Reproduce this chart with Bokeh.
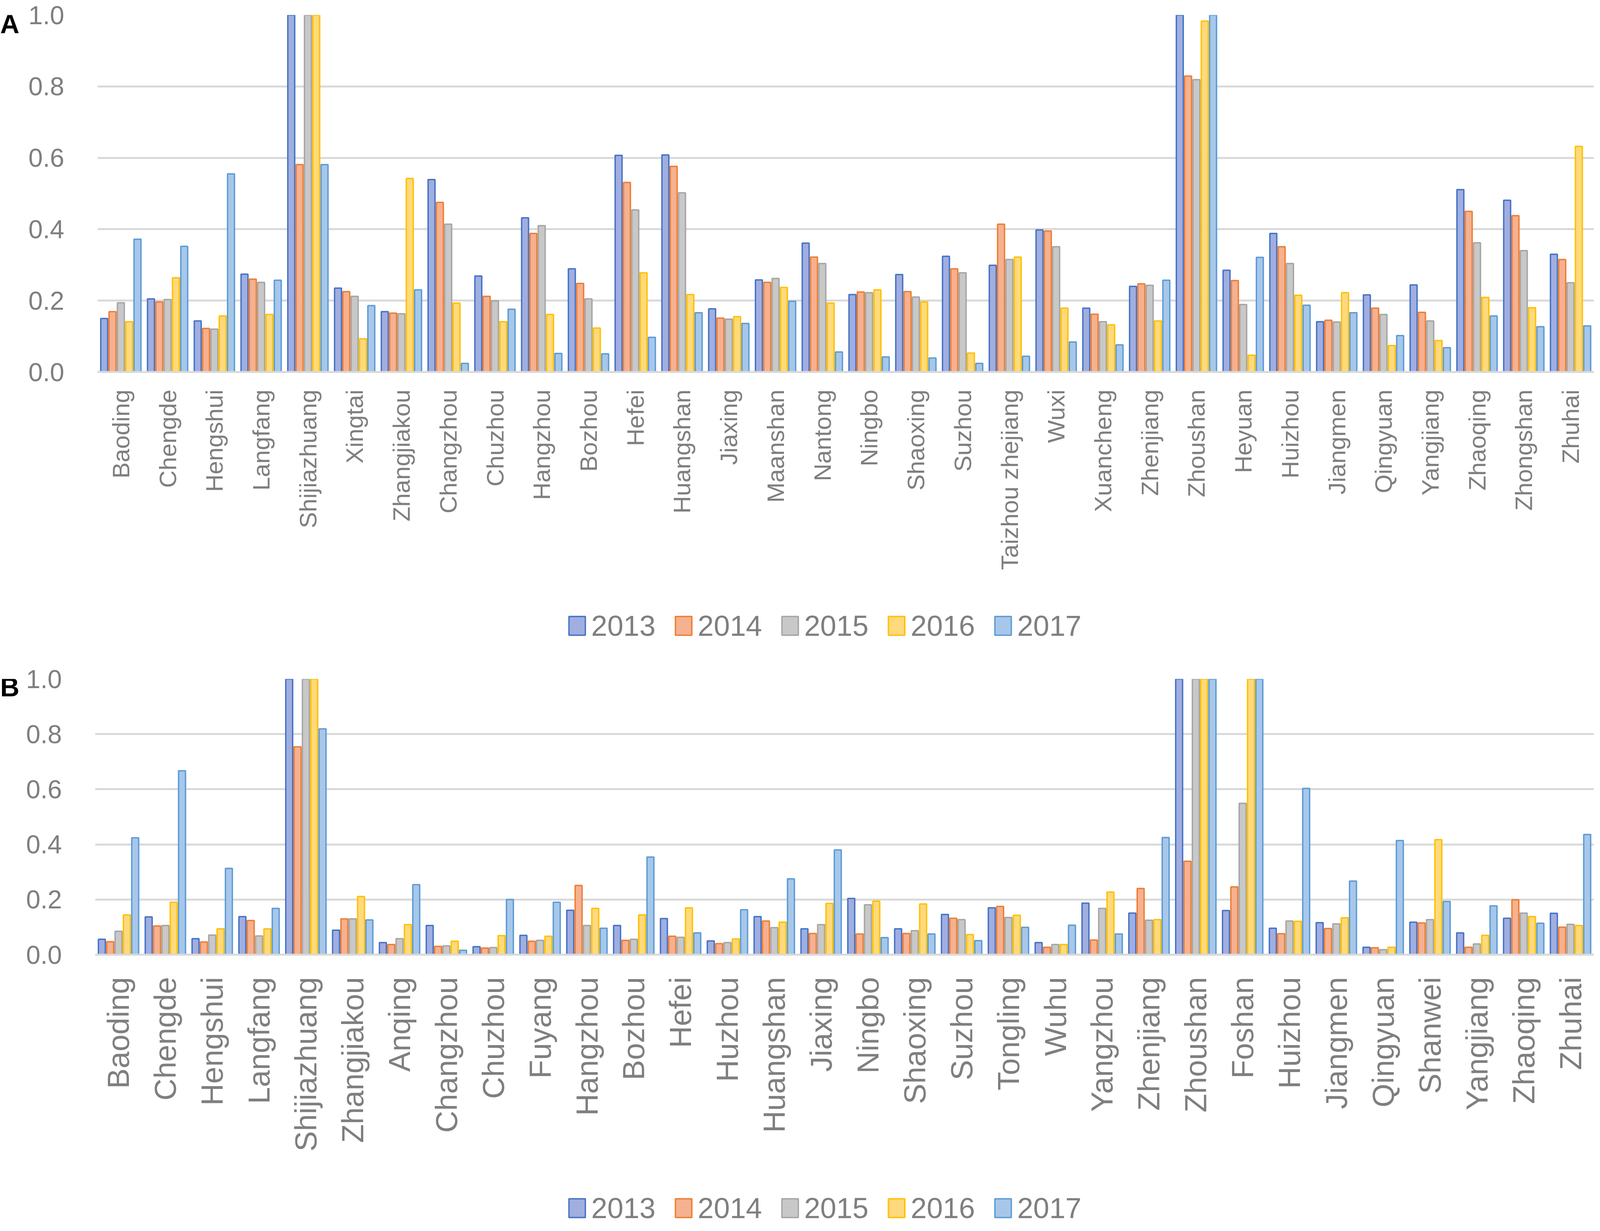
import math
from bokeh.plotting import figure
from bokeh.models import (ColumnDataSource, FactorRange, Range1d, FixedTicker,
                          PrintfTickFormatter)
from bokeh.transform import dodge
from bokeh.layouts import column, row
from bokeh.embed import file_html
from bokeh.resources import INLINE
from bokeh.core.properties import value

years = ["2013", "2014", "2015", "2016", "2017"]
y_ticks = [0.0, 0.2, 0.4, 0.6, 0.8, 1.0]

# ---------------- Panel A ----------------
cities_a = ["Baoding", "Chengde", "Hengshui", "Langfang", "Shijiazhuang", "Xingtai",
            "Zhangjiakou", "Changzhou", "Chuzhou", "Hangzhou", "Bozhou", "Hefei",
            "Huangshan", "Jiaxing", "Maanshan", "Nantong", "Ningbo", "Shaoxing",
            "Suzhou", "Taizhou zhejiang", "Wuxi", "Xuancheng", "Zhenjiang", "Zhoushan",
            "Heyuan", "Huizhou", "Jiangmen", "Qingyuan", "Yangjiang", "Zhaoqing",
            "Zhongshan", "Zhuhai"]
a_2013 = [0.150, 0.205, 0.143, 0.274, 1.000, 0.235, 0.169, 0.539, 0.269, 0.432, 0.289, 0.607,
          0.608, 0.177, 0.258, 0.361, 0.217, 0.273, 0.324, 0.299, 0.398, 0.179, 0.240, 1.000,
          0.285, 0.388, 0.141, 0.216, 0.244, 0.511, 0.481, 0.330]
a_2014 = [0.169, 0.196, 0.122, 0.260, 0.581, 0.225, 0.165, 0.475, 0.212, 0.388, 0.248, 0.531,
          0.576, 0.151, 0.251, 0.322, 0.224, 0.225, 0.289, 0.414, 0.395, 0.162, 0.247, 0.829,
          0.256, 0.351, 0.145, 0.179, 0.167, 0.450, 0.438, 0.315]
a_2015 = [0.194, 0.203, 0.120, 0.251, 1.000, 0.212, 0.163, 0.414, 0.199, 0.410, 0.205, 0.454,
          0.502, 0.148, 0.262, 0.304, 0.222, 0.210, 0.278, 0.315, 0.351, 0.141, 0.243, 0.819,
          0.189, 0.304, 0.140, 0.161, 0.143, 0.362, 0.340, 0.250]
a_2016 = [0.141, 0.264, 0.157, 0.161, 1.000, 0.093, 0.542, 0.193, 0.141, 0.161, 0.123, 0.278,
          0.217, 0.155, 0.237, 0.193, 0.230, 0.196, 0.053, 0.322, 0.179, 0.132, 0.143, 0.983,
          0.047, 0.215, 0.222, 0.074, 0.088, 0.209, 0.180, 0.632]
a_2017 = [0.372, 0.352, 0.555, 0.257, 0.581, 0.186, 0.230, 0.024, 0.176, 0.052, 0.051, 0.097,
          0.166, 0.136, 0.198, 0.056, 0.042, 0.039, 0.024, 0.044, 0.084, 0.076, 0.257, 1.000,
          0.321, 0.187, 0.166, 0.102, 0.068, 0.157, 0.127, 0.129]

# ---------------- Panel B ----------------
cities_b = ["Baoding", "Chengde", "Hengshui", "Langfang", "Shijiazhuang", "Zhangjiakou",
            "Anqing", "Changzhou", "Chuzhou", "Fuyang", "Hangzhou", "Bozhou", "Hefei",
            "Huzhou", "Huangshan", "Jiaxing", "Ningbo", "Shaoxing", "Suzhou", "Tongling",
            "Wuhu", "Yangzhou", "Zhenjiang", "Zhoushan", "Foshan", "Huizhou", "Jiangmen",
            "Qingyuan", "Shanwei", "Yangjiang", "Zhaoqing", "Zhuhai"]
b_2013 = [0.056, 0.137, 0.058, 0.138, 1.000, 0.089, 0.044, 0.106, 0.029, 0.070, 0.161, 0.106,
          0.131, 0.050, 0.138, 0.094, 0.204, 0.094, 0.146, 0.170, 0.044, 0.187, 0.151, 1.000,
          0.160, 0.096, 0.116, 0.027, 0.118, 0.079, 0.132, 0.150]
b_2014 = [0.047, 0.104, 0.046, 0.124, 0.754, 0.130, 0.037, 0.030, 0.024, 0.049, 0.251, 0.052,
          0.067, 0.040, 0.122, 0.077, 0.075, 0.077, 0.132, 0.175, 0.027, 0.053, 0.240, 0.339,
          0.246, 0.076, 0.095, 0.025, 0.115, 0.027, 0.199, 0.100]
b_2015 = [0.085, 0.106, 0.071, 0.068, 1.000, 0.130, 0.058, 0.032, 0.026, 0.052, 0.106, 0.056,
          0.063, 0.044, 0.098, 0.109, 0.181, 0.087, 0.127, 0.135, 0.037, 0.168, 0.125, 1.000,
          0.549, 0.122, 0.112, 0.018, 0.127, 0.039, 0.151, 0.110]
b_2016 = [0.144, 0.190, 0.094, 0.094, 1.000, 0.211, 0.109, 0.049, 0.069, 0.067, 0.168, 0.144,
          0.170, 0.057, 0.118, 0.186, 0.194, 0.184, 0.073, 0.143, 0.037, 0.227, 0.127, 1.000,
          1.000, 0.121, 0.134, 0.027, 0.417, 0.070, 0.138, 0.106]
b_2017 = [0.424, 0.667, 0.313, 0.168, 0.819, 0.126, 0.254, 0.016, 0.200, 0.190, 0.096, 0.354,
          0.079, 0.163, 0.275, 0.380, 0.062, 0.075, 0.051, 0.099, 0.107, 0.075, 0.425, 1.000,
          1.000, 0.603, 0.267, 0.414, 0.193, 0.177, 0.114, 0.436]

line_colors = ["#4472C4", "#ED7D31", "#A5A5A5", "#FFC000", "#5B9BD5"]
fill_colors = ["#A0AEE0", "#F6B190", "#C8C8C8", "#FFD97C", "#A7C7EA"]
offsets = [-0.356, -0.178, 0.0, 0.178, 0.356]
GREY = "#7F7F7F"
FONT = "Liberation Sans"

TOTAL_W = 4080
LETTER_W = 52          # small figure holding the panel letter
MAIN_W = TOTAL_W - LETTER_W


def blank_fig(width, height):
    f = figure(width=width, height=height, x_range=Range1d(0, width),
               y_range=Range1d(0, height), output_backend="svg", toolbar_location=None,
               x_axis_location=None, y_axis_location=None, min_border=0)
    f.outline_line_color = None
    f.grid.grid_line_color = None
    return f


def letter_fig(letter, height, center_from_top):
    f = blank_fig(LETTER_W, height)
    f.text(x=[0], y=[height - center_from_top], text=[letter], text_font=value(FONT),
           text_font_style="bold", text_font_size="68px", text_color="black",
           text_baseline="middle", text_align="left")
    return f


def legend_fig(height, center_from_top):
    # legend row: one swatch + label per year
    f = blank_fig(TOTAL_W, height)
    x0, pitch, sw_w, sw_h, gap = 1456, 272.6, 42, 48, 15
    xs = [x0 + i * pitch for i in range(len(years))]
    yc = height - center_from_top
    f.rect(x=[x + sw_w / 2 for x in xs], y=[yc] * len(years), width=sw_w, height=sw_h,
           fill_color=fill_colors, line_color=line_colors, line_width=3.5)
    f.text(x=[x + sw_w + gap for x in xs], y=[yc] * len(years), text=years,
           text_font=value(FONT), text_font_size="74px", text_color=GREY,
           text_baseline="middle", text_align="left")
    return f


def make_panel(cities, series, height, border_left, border_top, frame_h,
               xlabel_size, xlabel_standoff):
    src = ColumnDataSource(dict(city=cities, **{"y" + y: s for y, s in zip(years, series)}))
    p = figure(x_range=FactorRange(*cities), y_range=Range1d(0, 1.0),
               width=MAIN_W, height=height, output_backend="svg", toolbar_location=None,
               min_border_left=border_left, min_border_right=0,
               min_border_top=border_top,
               min_border_bottom=height - border_top - frame_h)
    p.outline_line_color = None
    p.xgrid.grid_line_color = None
    p.ygrid.grid_line_color = "#D9D9D9"
    p.ygrid.grid_line_width = 5
    p.yaxis.ticker = FixedTicker(ticks=y_ticks)
    p.yaxis.formatter = PrintfTickFormatter(format="%.1f")
    p.yaxis.axis_line_color = None
    p.yaxis.major_tick_line_color = None
    p.yaxis.minor_tick_line_color = None
    p.yaxis.major_tick_out = 0
    p.yaxis.minor_tick_out = 0
    p.yaxis.major_label_standoff = 85
    p.yaxis.major_label_text_font_size = "66px"
    p.yaxis.major_label_text_color = GREY
    p.yaxis.major_label_text_font = FONT
    p.xaxis.axis_line_color = "#D9D9D9"
    p.xaxis.axis_line_width = 5
    p.xaxis.major_tick_line_color = None
    p.xaxis.minor_tick_line_color = None
    p.xaxis.major_tick_out = 0
    p.xaxis.major_label_orientation = math.pi / 2
    p.xaxis.major_label_standoff = xlabel_standoff
    p.xaxis.major_label_text_font_size = xlabel_size
    p.xaxis.major_label_text_color = GREY
    p.xaxis.major_label_text_font = FONT

    for k, y in enumerate(years):
        p.vbar(x=dodge("city", offsets[k], range=p.x_range), top="y" + y, width=0.148,
               source=src, fill_color=fill_colors[k], line_color=line_colors[k],
               line_width=3.5)
    return p


pa = make_panel(cities_a, [a_2013, a_2014, a_2015, a_2016, a_2017],
                height=1560, border_left=197, border_top=38, frame_h=914,
                xlabel_size="62px", xlabel_standoff=45)
pb = make_panel(cities_b, [b_2013, b_2014, b_2015, b_2016, b_2017],
                height=1332, border_left=191, border_top=38, frame_h=706,
                xlabel_size="78px", xlabel_standoff=57)

la = letter_fig("A", 1560, 38)
lb = letter_fig("B", 1332, 38)
lega = legend_fig(140, 42)
legb = legend_fig(104, 61)

layout = column(row(la, pa), lega, row(lb, pb), legb)
open("out.html", "w").write(file_html(layout, INLINE))
